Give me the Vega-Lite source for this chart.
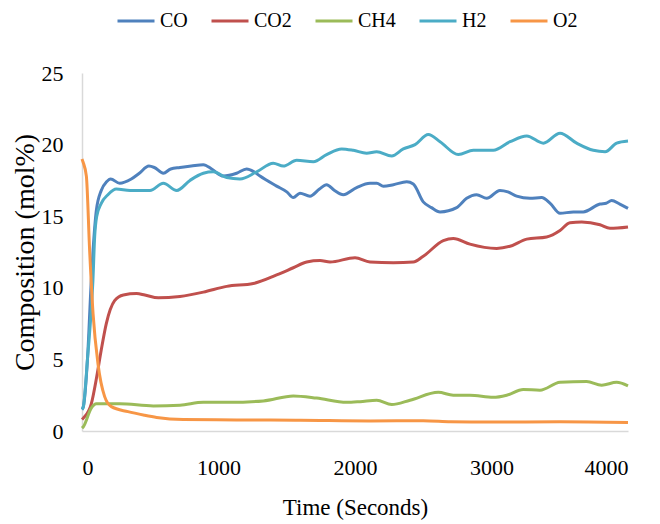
{
  "$schema": "https://vega.github.io/schema/vega-lite/v6.json",
  "width": 546,
  "height": 358,
  "autosize": {"type": "none"},
  "padding": {"left": 82, "top": 73, "right": 32, "bottom": 93},
  "background": "white",
  "config": {
    "view": {"stroke": null},
    "font": "Times New Roman"
  },
  "data": {
    "values": [
      {"t":0,"g":"CO","v":1.5},{"t":10,"g":"CO","v":1.7},{"t":40,"g":"CO","v":5},{"t":68,"g":"CO","v":10.5},{"t":81,"g":"CO","v":12.6},{"t":105,"g":"CO","v":15.4},{"t":141,"g":"CO","v":16.8},{"t":180,"g":"CO","v":17.4},{"t":210,"g":"CO","v":17.6},{"t":276,"g":"CO","v":17.3},{"t":361,"g":"CO","v":17.6},{"t":420,"g":"CO","v":18.0},{"t":490,"g":"CO","v":18.5},{"t":530,"g":"CO","v":18.4},{"t":596,"g":"CO","v":18.0},{"t":650,"g":"CO","v":18.3},{"t":718,"g":"CO","v":18.4},{"t":800,"g":"CO","v":18.5},{"t":889,"g":"CO","v":18.6},{"t":950,"g":"CO","v":18.3},{"t":1035,"g":"CO","v":17.8},{"t":1133,"g":"CO","v":18.0},{"t":1206,"g":"CO","v":18.3},{"t":1260,"g":"CO","v":18.1},{"t":1304,"g":"CO","v":17.8},{"t":1426,"g":"CO","v":17.1},{"t":1500,"g":"CO","v":16.7},{"t":1548,"g":"CO","v":16.3},{"t":1597,"g":"CO","v":16.6},{"t":1670,"g":"CO","v":16.4},{"t":1740,"g":"CO","v":16.9},{"t":1792,"g":"CO","v":17.2},{"t":1850,"g":"CO","v":16.8},{"t":1914,"g":"CO","v":16.5},{"t":2012,"g":"CO","v":17.0},{"t":2110,"g":"CO","v":17.3},{"t":2160,"g":"CO","v":17.3},{"t":2208,"g":"CO","v":17.1},{"t":2281,"g":"CO","v":17.2},{"t":2379,"g":"CO","v":17.4},{"t":2427,"g":"CO","v":17.25},{"t":2500,"g":"CO","v":16.0},{"t":2560,"g":"CO","v":15.6},{"t":2623,"g":"CO","v":15.3},{"t":2745,"g":"CO","v":15.6},{"t":2818,"g":"CO","v":16.25},{"t":2891,"g":"CO","v":16.5},{"t":2965,"g":"CO","v":16.25},{"t":3062,"g":"CO","v":16.8},{"t":3120,"g":"CO","v":16.7},{"t":3184,"g":"CO","v":16.4},{"t":3282,"g":"CO","v":16.25},{"t":3367,"g":"CO","v":16.3},{"t":3430,"g":"CO","v":15.9},{"t":3502,"g":"CO","v":15.2},{"t":3600,"g":"CO","v":15.3},{"t":3672,"g":"CO","v":15.3},{"t":3795,"g":"CO","v":15.85},{"t":3840,"g":"CO","v":15.9},{"t":3880,"g":"CO","v":16.1},{"t":3940,"g":"CO","v":15.85},{"t":4000,"g":"CO","v":15.55},

      {"t":0,"g":"H2","v":1.5},{"t":10,"g":"H2","v":1.7},{"t":40,"g":"H2","v":5},{"t":80,"g":"H2","v":10.5},{"t":93,"g":"H2","v":13.6},{"t":108,"g":"H2","v":15.0},{"t":141,"g":"H2","v":15.9},{"t":190,"g":"H2","v":16.5},{"t":251,"g":"H2","v":16.9},{"t":352,"g":"H2","v":16.8},{"t":498,"g":"H2","v":16.8},{"t":596,"g":"H2","v":17.3},{"t":694,"g":"H2","v":16.8},{"t":791,"g":"H2","v":17.5},{"t":889,"g":"H2","v":18.0},{"t":962,"g":"H2","v":18.1},{"t":1060,"g":"H2","v":17.7},{"t":1157,"g":"H2","v":17.6},{"t":1280,"g":"H2","v":18.1},{"t":1401,"g":"H2","v":18.7},{"t":1475,"g":"H2","v":18.5},{"t":1573,"g":"H2","v":18.9},{"t":1695,"g":"H2","v":18.8},{"t":1792,"g":"H2","v":19.3},{"t":1902,"g":"H2","v":19.7},{"t":1988,"g":"H2","v":19.6},{"t":2085,"g":"H2","v":19.4},{"t":2159,"g":"H2","v":19.5},{"t":2269,"g":"H2","v":19.2},{"t":2354,"g":"H2","v":19.7},{"t":2440,"g":"H2","v":20.0},{"t":2537,"g":"H2","v":20.7},{"t":2623,"g":"H2","v":20.2},{"t":2757,"g":"H2","v":19.3},{"t":2867,"g":"H2","v":19.6},{"t":3013,"g":"H2","v":19.6},{"t":3136,"g":"H2","v":20.2},{"t":3258,"g":"H2","v":20.6},{"t":3380,"g":"H2","v":20.1},{"t":3502,"g":"H2","v":20.8},{"t":3624,"g":"H2","v":20.1},{"t":3746,"g":"H2","v":19.6},{"t":3832,"g":"H2","v":19.5},{"t":3917,"g":"H2","v":20.1},{"t":4000,"g":"H2","v":20.25},

      {"t":0,"g":"CO2","v":0.8},{"t":10,"g":"CO2","v":0.9},{"t":68,"g":"CO2","v":1.9},{"t":108,"g":"CO2","v":3.8},{"t":140,"g":"CO2","v":5.6},{"t":178,"g":"CO2","v":7.5},{"t":239,"g":"CO2","v":9.1},{"t":303,"g":"CO2","v":9.5},{"t":400,"g":"CO2","v":9.6},{"t":460,"g":"CO2","v":9.5},{"t":559,"g":"CO2","v":9.3},{"t":718,"g":"CO2","v":9.4},{"t":889,"g":"CO2","v":9.7},{"t":1060,"g":"CO2","v":10.1},{"t":1255,"g":"CO2","v":10.3},{"t":1426,"g":"CO2","v":10.9},{"t":1548,"g":"CO2","v":11.4},{"t":1646,"g":"CO2","v":11.8},{"t":1744,"g":"CO2","v":11.9},{"t":1817,"g":"CO2","v":11.8},{"t":2000,"g":"CO2","v":12.1},{"t":2110,"g":"CO2","v":11.8},{"t":2281,"g":"CO2","v":11.75},{"t":2427,"g":"CO2","v":11.8},{"t":2500,"g":"CO2","v":12.2},{"t":2647,"g":"CO2","v":13.3},{"t":2720,"g":"CO2","v":13.45},{"t":2842,"g":"CO2","v":13.05},{"t":3038,"g":"CO2","v":12.75},{"t":3136,"g":"CO2","v":12.9},{"t":3258,"g":"CO2","v":13.4},{"t":3404,"g":"CO2","v":13.55},{"t":3502,"g":"CO2","v":14.0},{"t":3575,"g":"CO2","v":14.55},{"t":3661,"g":"CO2","v":14.6},{"t":3795,"g":"CO2","v":14.4},{"t":3868,"g":"CO2","v":14.15},{"t":4000,"g":"CO2","v":14.25},

      {"t":0,"g":"CH4","v":0.2},{"t":10,"g":"CH4","v":0.3},{"t":68,"g":"CH4","v":1.6},{"t":105,"g":"CH4","v":1.9},{"t":278,"g":"CH4","v":1.9},{"t":522,"g":"CH4","v":1.75},{"t":718,"g":"CH4","v":1.8},{"t":889,"g":"CH4","v":2.0},{"t":1084,"g":"CH4","v":2.0},{"t":1328,"g":"CH4","v":2.1},{"t":1548,"g":"CH4","v":2.45},{"t":1719,"g":"CH4","v":2.3},{"t":1939,"g":"CH4","v":2.0},{"t":2037,"g":"CH4","v":2.05},{"t":2159,"g":"CH4","v":2.15},{"t":2269,"g":"CH4","v":1.85},{"t":2403,"g":"CH4","v":2.15},{"t":2610,"g":"CH4","v":2.7},{"t":2720,"g":"CH4","v":2.5},{"t":2842,"g":"CH4","v":2.5},{"t":3013,"g":"CH4","v":2.35},{"t":3111,"g":"CH4","v":2.5},{"t":3233,"g":"CH4","v":2.9},{"t":3355,"g":"CH4","v":2.85},{"t":3502,"g":"CH4","v":3.4},{"t":3697,"g":"CH4","v":3.45},{"t":3807,"g":"CH4","v":3.2},{"t":3917,"g":"CH4","v":3.4},{"t":4000,"g":"CH4","v":3.15},

      {"t":0,"g":"O2","v":19.0},{"t":7,"g":"O2","v":18.8},{"t":32,"g":"O2","v":17.8},{"t":56,"g":"O2","v":12.6},{"t":81,"g":"O2","v":8.2},{"t":117,"g":"O2","v":4.7},{"t":166,"g":"O2","v":2.4},{"t":215,"g":"O2","v":1.7},{"t":337,"g":"O2","v":1.35},{"t":459,"g":"O2","v":1.1},{"t":547,"g":"O2","v":0.95},{"t":742,"g":"O2","v":0.8},{"t":1133,"g":"O2","v":0.77},{"t":1600,"g":"O2","v":0.75},{"t":2110,"g":"O2","v":0.7},{"t":2500,"g":"O2","v":0.72},{"t":2700,"g":"O2","v":0.65},{"t":3000,"g":"O2","v":0.62},{"t":3500,"g":"O2","v":0.65},{"t":4000,"g":"O2","v":0.6}
    ]
  },
  "mark": {"type": "line", "strokeWidth": 3, "interpolate": "monotone"},
  "encoding": {
    "x": {
      "field": "t", "type": "quantitative",
      "scale": {"domain": [0, 4000], "nice": false},
      "axis": {
        "title": "Time (Seconds)", "values": [0,1000,2000,3000,4000], "format": "d",
        "grid": false, "ticks": false, "domainColor": "#d9d9d9", "domainWidth": 1.5,
        "labelFont": "Times New Roman", "labelFontSize": 22, "labelColor": "#000", "labelPadding": 26,
        "titleFont": "Times New Roman", "titleFontSize": 23, "titleFontWeight": "normal", "titleColor": "#000", "titlePadding": 18
      }
    },
    "y": {
      "field": "v", "type": "quantitative",
      "scale": {"domain": [0, 25], "nice": false},
      "axis": {
        "title": "Composition (mol%)", "values": [0,5,10,15,20,25],
        "grid": false, "ticks": false, "domainColor": "#d9d9d9", "domainWidth": 1.5,
        "labelFont": "Times New Roman", "labelFontSize": 22, "labelColor": "#000", "labelPadding": 19,
        "titleFont": "Times New Roman", "titleFontSize": 28, "titleFontWeight": "normal", "titleColor": "#000", "titlePadding": 2
      }
    },
    "color": {
      "field": "g", "type": "nominal",
      "scale": {"domain": ["CO","CO2","CH4","H2","O2"], "range": ["#4F81BD","#C0504D","#9BBB59","#4BACC6","#F79646"]},
      "legend": {
        "title": null, "orient": "none", "direction": "horizontal",
        "legendX": 34, "legendY": -72,
        "symbolType": "stroke", "symbolSize": 1369, "symbolStrokeWidth": 3,
        "labelFont": "Times New Roman", "labelFontSize": 20, "labelColor": "#000",
        "labelOffset": 4, "columnPadding": 17, "padding": 0
      }
    }
  }
}
